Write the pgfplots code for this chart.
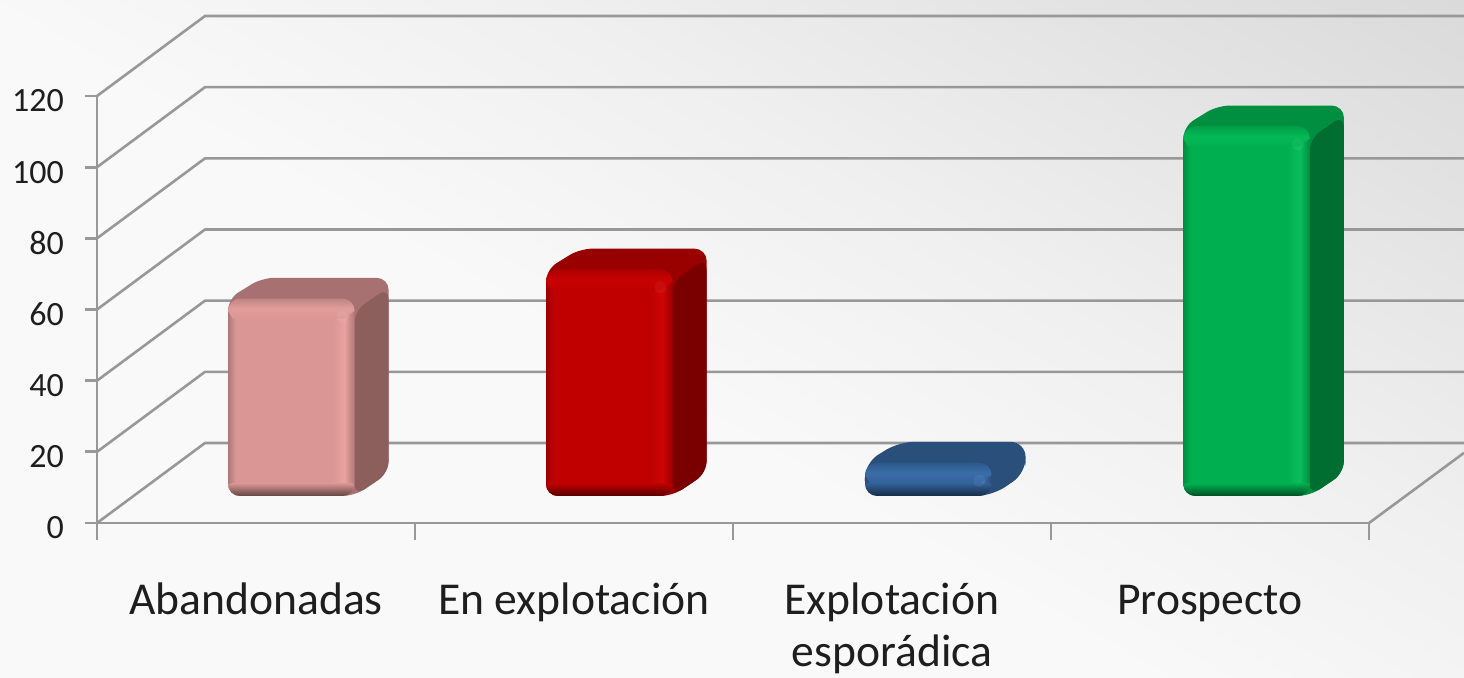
\documentclass[border=0pt]{standalone}
\usepackage{fontspec}
\setmainfont{Carlito}
\usepackage{pgfplots}
\pgfplotsset{compat=1.18}
\definecolor{gridc}{HTML}{989898}
\definecolor{txt}{HTML}{1E1E1E}
\pgfdeclareverticalshading{bgshade}{100bp}{color(0bp)=(white!97.5!black); color(46bp)=(white!97.5!black); color(60bp)=(white!94!black); color(100bp)=(white!80!black)}
% colour sets: front, top, side, highlight
\newcommand{\barcolors}[5]{%
  \definecolor{#1front}{HTML}{#2}\definecolor{#1top}{HTML}{#3}\definecolor{#1side}{HTML}{#4}\definecolor{#1hi}{HTML}{#5}%
  \colorlet{#1edge}{#1front!80!black}\colorlet{#1low}{#1front!45!black}\colorlet{#1upper}{#1front!55!#1top}\colorlet{#1mid}{#1hi!60!#1front}\colorlet{#1glint}{#1hi!80!white}%
  \pgfdeclarehorizontalshading{#1h}{100bp}{color(0bp)=(#1edge); color(25bp)=(#1edge); color(28bp)=(#1front); color(66bp)=(#1front); color(71bp)=(#1hi); color(75bp)=(#1edge); color(100bp)=(#1edge)}%
}
\barcolors{pk}{D99694}{A67170}{8C5E5C}{E9A2A0}
\barcolors{rd}{C00000}{990000}{7A0000}{CE0404}
\barcolors{bl}{33619A}{2A4F7A}{2A4F7A}{3F74B2}
\barcolors{gr}{00B050}{008F40}{006E30}{08BE5A}
% left edge, value of the bar, colour set, corner radius of the solid
\newcommand{\solidbar}[4]{%
  \pgfmathsetmacro\xL{#1}\pgfmathsetmacro\xR{#1+0.398}%
  \pgfmathsetmacro\xLb{#1+0.107}\pgfmathsetmacro\xRb{#1+0.505}%
  \pgfmathsetmacro\xM{#1+0.2}%
  \pgfmathsetmacro\yB{7.6}\pgfmathsetmacro\yT{7.6+#2}%
  \pgfmathsetmacro\yBb{7.6+6.46}\pgfmathsetmacro\yTb{7.6+#2+5.9}%
  % silhouette carrying the colour of the top face
  \addplot[draw=none,fill=#3top,rounded corners=#4] coordinates {(\xM,\yB)(\xR,\yB)(\xRb,\yBb)(\xRb,\yTb)(\xLb,\yTb)(\xL,\yT)(\xL,\yB)} --cycle;
  % side face
  \pgfmathsetmacro\ySa{\yT-3.4}\pgfmathsetmacro\ySb{\yTb-2.6}%
  \addplot[draw=none,fill=#3side,rounded corners=#4] coordinates {(\xR,\yB)(\xRb,\yBb)(\xRb,\ySb)(\xR,\ySa)} --cycle;
  % front face
  \addplot[draw=none,shading=#3h,rounded corners=#4] coordinates {(\xM,\yB)(\xR,\yB)(\xR,\yT)(\xL,\yT)(\xL,\yB)} --cycle;
  % bottom band, rounded at its two lower corners only
  \pgfmathsetmacro\yBt{\yB+3.6}\pgfmathsetmacro\xLi{\xL+0.015}\pgfmathsetmacro\xRi{\xR-0.015}%
  \addplot[draw=none,top color=#3front,bottom color=#3low] coordinates {(\xLi,\yBt)(\xL,{\yB+3.37})({\xL+0.0029},{\yB+2.08})({\xL+0.0110},{\yB+0.99})({\xL+0.0233},{\yB+0.26})({\xL+0.0377},\yB)({\xR-0.0377},\yB)({\xR-0.0233},{\yB+0.26})({\xR-0.0110},{\yB+0.99})({\xR-0.0029},{\yB+2.08})(\xR,{\yB+3.37})(\xRi,\yBt)} --cycle;
  % top band, rounded at its two upper corners only
  \pgfmathsetmacro\yTt{\yT-5.6}\pgfmathsetmacro\xRj{\xR-0.035}%
  \addplot[draw=none,bottom color=#3front,top color=#3upper,middle color=#3mid] coordinates {(\xLi,\yTt)(\xL,{\yT-3.37})({\xL+0.0029},{\yT-2.08})({\xL+0.0110},{\yT-0.99})({\xL+0.0233},{\yT-0.26})({\xL+0.0377},\yT)({\xR-0.0377},\yT)({\xR-0.0233},{\yT-0.26})({\xR-0.0110},{\yT-0.99})({\xR-0.0029},{\yT-2.08})(\xR,{\yT-3.37})(\xRj,\yTt)} --cycle;
  % glint on the corner
  \pgfmathsetmacro\xG{\xR-0.038}\pgfmathsetmacro\yG{\yT-5}%
  \addplot[only marks,mark=*,mark size=3pt,mark options={draw=#3glint,fill=#3glint,draw opacity=0,fill opacity=0.22}] coordinates {(\xG,\yG)};
}
\begin{document}
\begin{tikzpicture}[x=1pt,y=1pt]
\path[use as bounding box] (0,0) rectangle (732,338.5);
\shade[shading=bgshade,shading angle=-30] (0,0) rectangle (732,338.5);
\begin{axis}[
  at={(48.5pt,77pt)},anchor=south west,
  scale only axis,width=636pt,height=213.5pt,
  xmin=0,xmax=4,ymin=0,ymax=120,
  clip=false,
  axis x line*=bottom,axis y line*=left,
  axis line style={gridc,line width=1.4pt,-},
  tick align=outside,
  ytick={0,20,40,60,80,100,120},
  xtick={0.5,1.5,2.5,3.5},
  xticklabels={\strut Abandonadas,\strut En explotación,\strut Explotación\\esporádica,\strut Prospecto},
  minor xtick={0,1,2,3,4},
  major tick length=6pt,minor tick length=8.5pt,
  major x tick style={draw=none},
  minor x tick style={gridc,line width=1.4pt},
  major y tick style={gridc,line width=1.4pt},
  /pgf/number format/assume math mode=true,
  yticklabel style={font=\fontsize{17}{18}\selectfont,text=txt,xshift=-7pt,yshift=-2.5pt},
  xticklabel style={font=\fontsize{22.8}{26}\selectfont,text=txt,align=center,anchor=north,yshift=-18.2pt},
]
\addplot[gridc,line width=1.3pt] coordinates {(0,0)(0.3396,22.48)(4.2987,22.48)};
\addplot[gridc,line width=1.3pt] coordinates {(4,0)(4.2987,19.7)};
\addplot[gridc,line width=1.3pt] coordinates {(0,20)(0.3396,42.48)(4.2987,42.48)};
\addplot[gridc,line width=1.3pt] coordinates {(0,40)(0.3396,62.48)(4.2987,62.48)};
\addplot[gridc,line width=1.3pt] coordinates {(0,60)(0.3396,82.48)(4.2987,82.48)};
\addplot[gridc,line width=1.3pt] coordinates {(0,80)(0.3396,102.48)(4.2987,102.48)};
\addplot[gridc,line width=1.3pt] coordinates {(0,100)(0.3396,122.48)(4.2987,122.48)};
\addplot[gridc,line width=1.3pt] coordinates {(0,120)(0.3396,142.48)(4.2987,142.48)};
\solidbar{0.412}{55.4}{pk}{6pt}
\solidbar{1.412}{63.6}{rd}{6pt}
\solidbar{2.415}{9.3}{bl}{7.5pt}
\solidbar{3.416}{103.8}{gr}{6pt}
\end{axis}
\end{tikzpicture}
\end{document}
